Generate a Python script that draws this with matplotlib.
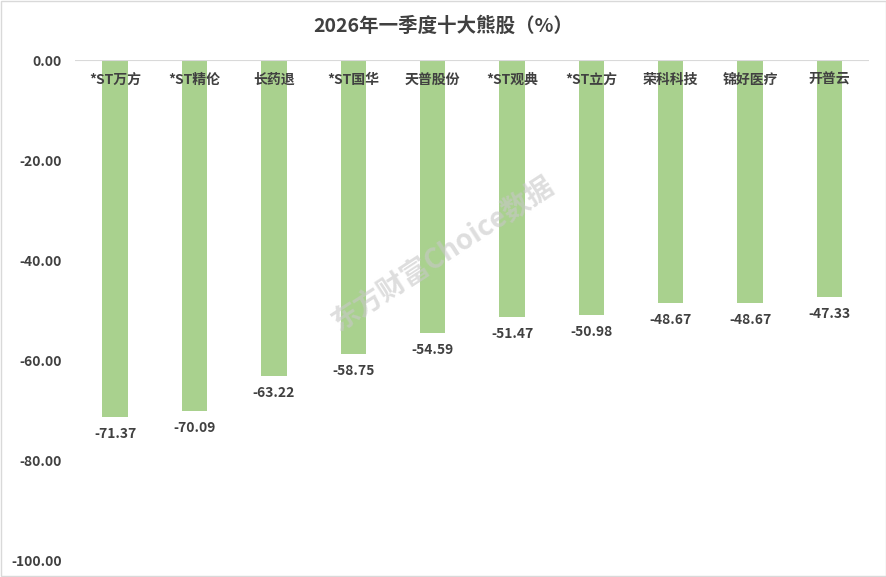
import matplotlib
matplotlib.use("Agg")
import matplotlib.pyplot as plt
from matplotlib.patches import Rectangle

plt.rcParams['font.family'] = ['Noto Sans CJK SC', 'DejaVu Sans']

categories = ["*ST万方", "*ST精伦", "长药退", "*ST国华", "天普股份", "*ST观典", "*ST立方", "荣科科技", "锦好医疗", "开普云"]
values = [-71.37, -70.09, -63.22, -58.75, -54.59, -51.47, -50.98, -48.67, -48.67, -47.33]
yticks = [0, -20, -40, -60, -80, -100]

fig = plt.figure(figsize=(8.87, 5.77), dpi=100)
ax = fig.add_axes([0.085, 0.029, 0.895, 0.867])
x = range(len(categories))
ax.bar(x, values, width=0.32, color='#a9d18e')
ax.set_ylim(-100, 0)
ax.set_xlim(-0.5, len(categories) - 0.5)
ax.set_yticks(yticks)
ax.set_yticklabels([f"{v:.2f}" for v in yticks], fontsize=10, fontweight='bold', color='#404040')
ax.set_xticks([])
ax.tick_params(axis='y', length=0, pad=10)
for s in ax.spines.values():
    s.set_visible(False)
ax.axhline(0, color='#d9d9d9', lw=0.8)
for i, (c, v) in enumerate(zip(categories, values)):
    ax.text(i, -4, c, ha='center', va='center', fontsize=10, fontweight='bold', color='#404040')
    ax.text(i, v - 2, f"{v:.2f}", ha='center', va='top', fontsize=10, fontweight='bold', color='#404040')
ax.text(0.5, 0.56, "东方财富Choice数据", transform=fig.transFigure, rotation=33, ha='center', va='center',
        fontsize=20, fontweight='bold', style='italic', color='#c8c8c8', alpha=0.6)
fig.text(0.5, 0.955, "2026年一季度十大熊股（%）", ha='center', va='center', fontsize=14, fontweight='bold', color='#404040')
fig.patches.append(Rectangle((0.001, 0.001), 0.998, 0.998, transform=fig.transFigure, fill=False, edgecolor='#d9d9d9', lw=1))
fig.savefig("out.png", dpi=100)
